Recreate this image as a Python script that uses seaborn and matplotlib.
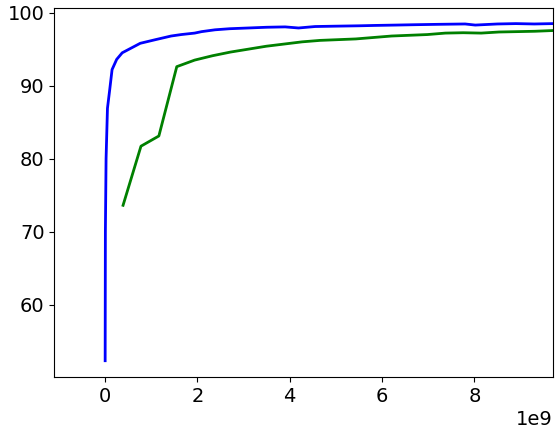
import numpy as np
import pandas as pd
import seaborn as sns
import matplotlib
matplotlib.use("Agg")
import matplotlib.pyplot as plt

# blue curve (x in units of 1e9)
blue_x = [0, 0.005, 0.02, 0.05, 0.1, 0.15, 0.25, 0.37, 0.55, 0.76, 1.09, 1.43,
          1.65, 1.94, 2.09, 2.38, 2.7, 3.1, 3.5, 3.9, 4.19, 4.55, 5.0, 5.5,
          5.85, 6.3, 6.72, 7.2, 7.8, 8.02, 8.5, 8.9, 9.3, 9.7]
blue_y = [52.3, 70.0, 80.0, 86.9, 89.5, 92.2, 93.6, 94.5, 95.1, 95.8, 96.3, 96.8,
          97.0, 97.2, 97.4, 97.65, 97.8, 97.9, 98.0, 98.05, 97.9, 98.1, 98.15, 98.2,
          98.25, 98.3, 98.35, 98.4, 98.45, 98.3, 98.45, 98.5, 98.45, 98.5]

# green curve
green_x = [0.388, 0.776, 1.164, 1.552, 1.94, 2.328, 2.716, 3.104, 3.492, 3.88,
           4.268, 4.656, 5.044, 5.432, 5.82, 6.208, 6.596, 6.984, 7.372, 7.76,
           8.148, 8.536, 8.924, 9.312, 9.7]
green_y = [73.6, 81.7, 83.1, 92.6, 93.5, 94.1, 94.6, 95.0, 95.4, 95.7,
           96.0, 96.2, 96.3, 96.4, 96.6, 96.8, 96.9, 97.0, 97.2, 97.25,
           97.2, 97.35, 97.4, 97.45, 97.55]

plt.rcParams["xtick.labelsize"] = 14
plt.rcParams["ytick.labelsize"] = 14

blue = pd.DataFrame({"x": np.array(blue_x) * 1e9, "y": blue_y})
green = pd.DataFrame({"x": np.array(green_x) * 1e9, "y": green_y})

fig, ax = plt.subplots(figsize=(5.55, 4.36), dpi=100)
sns.lineplot(data=blue, x="x", y="y", color="blue", linewidth=2, ax=ax)
sns.lineplot(data=green, x="x", y="y", color="green", linewidth=2, ax=ax)

ax.set_xlim(-1.1e9, 9.7e9)
ax.set_ylim(50.05, 100.6)
ax.set_xlabel("")
ax.set_ylabel("")

fig.subplots_adjust(left=0.098, right=0.996, top=0.981, bottom=0.135)
fig.savefig("out.png", dpi=100)
